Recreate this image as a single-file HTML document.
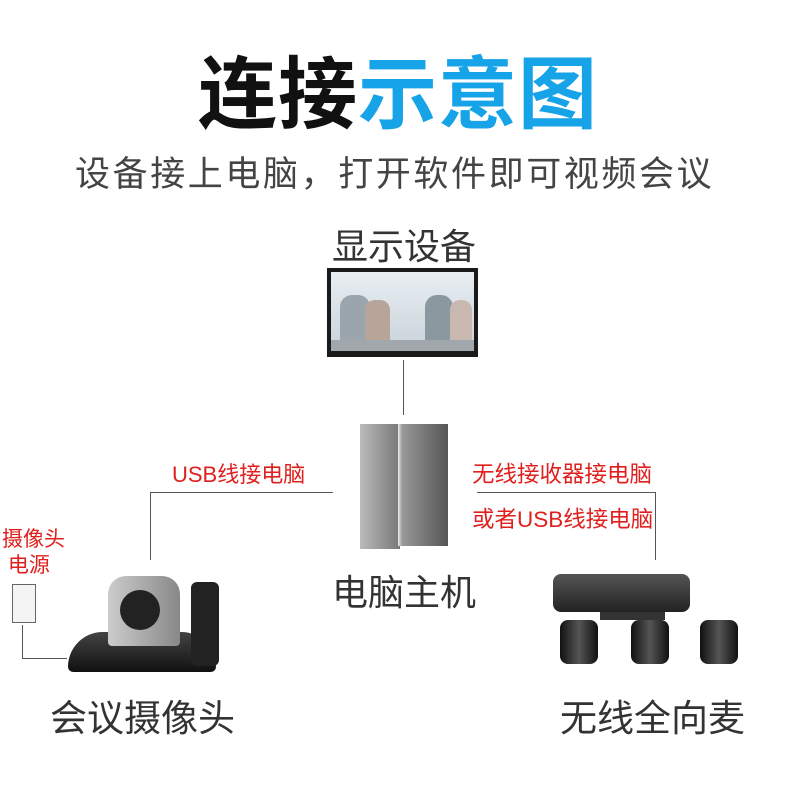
<!DOCTYPE html>
<html><head><meta charset="utf-8"><style>
body{margin:0;width:800px;height:800px;background:#fff;position:relative;overflow:hidden;font-family:"Liberation Sans","Noto Sans CJK SC",sans-serif}
.a{position:absolute;white-space:nowrap}
.r{color:#e0201e;font-size:21px}
.b{font-size:36px;color:#333}
.l{position:absolute;background:#555}
</style></head><body>
<div class="a" style="left:198px;top:30px;font-size:79px;font-weight:bold;letter-spacing:1px;color:#111">连接<span style="color:#17a3e8">示意图</span></div>
<div class="a" style="left:75px;top:146px;font-size:35px;color:#444;letter-spacing:2.6px">设备接上电脑，打开软件即可视频会议</div>
<div class="a b" style="left:332px;top:218px">显示设备</div>
<div class="a" style="left:327px;top:268px;width:151px;height:89px;background:#1a1a1a"></div>
<div class="a" style="left:331px;top:272px;width:143px;height:79px;background:linear-gradient(#e8eef2,#c9d3da)"></div>
<div class="a" style="left:340px;top:295px;width:30px;height:55px;background:#9aa5ad;border-radius:12px 12px 0 0"></div>
<div class="a" style="left:365px;top:300px;width:25px;height:50px;background:#b8a59a;border-radius:10px 10px 0 0"></div>
<div class="a" style="left:425px;top:295px;width:28px;height:55px;background:#8c98a0;border-radius:12px 12px 0 0"></div>
<div class="a" style="left:450px;top:300px;width:22px;height:50px;background:#c8b8b0;border-radius:10px 10px 0 0"></div>
<div class="a" style="left:331px;top:340px;width:143px;height:11px;background:#a0a8ad"></div>
<div class="l" style="left:403px;top:360px;width:1px;height:55px"></div>
<div class="a" style="left:360px;top:424px;width:40px;height:125px;background:linear-gradient(90deg,#bbb,#777)"></div>
<div class="a" style="left:398px;top:424px;width:50px;height:122px;background:linear-gradient(90deg,#eee 0,#999 8%,#555)"></div>
<div class="l" style="left:150px;top:492px;width:183px;height:1px"></div>
<div class="l" style="left:150px;top:492px;width:1px;height:68px"></div>
<div class="l" style="left:477px;top:492px;width:178px;height:1px"></div>
<div class="l" style="left:655px;top:492px;width:1px;height:68px"></div>
<div class="a r" style="left:172px;top:457px;font-size:22px">USB线接电脑</div>
<div class="a r" style="left:472px;top:457px;font-size:22.5px">无线接收器接电脑</div>
<div class="a r" style="left:472px;top:502px;font-size:22.5px">或者USB线接电脑</div>
<div class="a b" style="left:332px;top:564px">电脑主机</div>
<div class="a r" style="left:2px;top:527px;line-height:26px">摄像头<br>&nbsp;电源</div>
<div class="a" style="left:12px;top:584px;width:22px;height:37px;border:1px solid #666;background:#f4f4f4"></div>
<div class="l" style="left:22px;top:625px;width:1px;height:33px"></div>
<div class="l" style="left:22px;top:658px;width:45px;height:1px"></div>
<div class="a" style="left:68px;top:632px;width:148px;height:40px;background:linear-gradient(#444,#111);border-radius:40px 40px 6px 6px"></div>
<div class="a" style="left:108px;top:576px;width:72px;height:70px;background:linear-gradient(90deg,#ccc,#888);border-radius:18px 18px 4px 4px"></div>
<div class="a" style="left:120px;top:590px;width:40px;height:40px;background:#222;border-radius:50%"></div>
<div class="a" style="left:191px;top:582px;width:28px;height:84px;background:#222;border-radius:6px"></div>
<div class="a" style="left:553px;top:574px;width:137px;height:38px;background:linear-gradient(#555,#222);border-radius:8px"></div>
<div class="a" style="left:600px;top:612px;width:65px;height:8px;background:#333"></div>
<div class="a" style="left:560px;top:620px;width:38px;height:44px;background:linear-gradient(90deg,#111,#555,#111);border-radius:8px"></div>
<div class="a" style="left:631px;top:620px;width:38px;height:44px;background:linear-gradient(90deg,#111,#555,#111);border-radius:8px"></div>
<div class="a" style="left:700px;top:620px;width:38px;height:44px;background:linear-gradient(90deg,#111,#555,#111);border-radius:8px"></div>
<div class="a b" style="left:50px;top:688px;font-size:37px">会议摄像头</div>
<div class="a b" style="left:560px;top:688px;font-size:37px">无线全向麦</div>
</body></html>
